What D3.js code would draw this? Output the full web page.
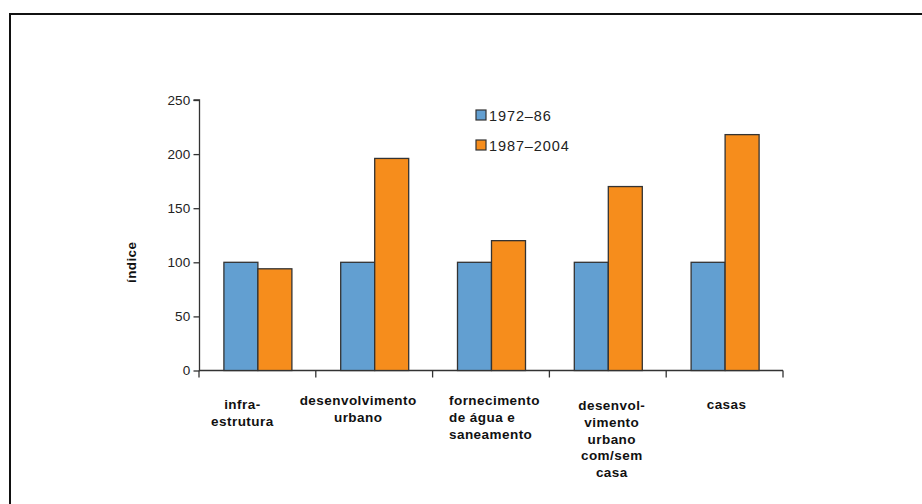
<!DOCTYPE html>
<html><head><meta charset="utf-8">
<script src="https://cdn.jsdelivr.net/npm/d3@7"></script>
<style>body{margin:0;background:#fff;} svg{display:block;font-family:"Liberation Sans",Arial,sans-serif;}</style>
</head><body>
<svg id="c" width="922" height="504"></svg>
<script>
const categories = [
  ["infra-","estrutura"],
  ["desenvolvimento","urbano"],
  ["fornecimento","de água e","saneamento"],
  ["desenvol-","vimento","urbano","com/sem","casa"],
  ["casas"]
];
const seriesNames = ["1972–86","1987–2004"];
const values1972 = [100,100,100,100,100];
const values1987 = [94,196,120,170,218];
const yTicks = [0,50,100,150,200,250];
const colors = ["#629fd1","#f68d1c"];

const svg = d3.select("#c");
// frame
svg.append("path").attr("d","M10,504 V14 H922").attr("fill","none").attr("stroke","#111").attr("stroke-width",2);

const x0 = d3.scaleBand().domain(d3.range(categories.length)).range([199,783]).paddingInner(0).paddingOuter(0);
const y = d3.scaleLinear().domain([0,250]).range([370.5,100]);
const inner = 34;

const yAxis = d3.axisLeft(y).tickValues(yTicks).tickSize(6).tickPadding(3);
const gy = svg.append("g").attr("transform","translate(199.5,0)").call(yAxis);
gy.selectAll("text").attr("font-size",13.5).attr("fill","#222").attr("font-family","Liberation Sans, Arial").attr("letter-spacing",0.2);
gy.selectAll("line,path").attr("stroke","#333").attr("stroke-width",1.3);
gy.select(".domain").attr("d",`M-6,${y(250)}H0V${y(0)}`);

// x axis
const gx = svg.append("g");
gx.append("line").attr("x1",x0.range()[0]).attr("x2",x0.range()[1]).attr("y1",y(0)).attr("y2",y(0)).attr("stroke","#333").attr("stroke-width",1.3);
const bounds = d3.range(categories.length+1).map(i=> i<categories.length ? x0(i) : x0.range()[1]);
gx.selectAll("line.t").data(bounds).join("line").attr("class","t")
  .attr("x1",d=>d).attr("x2",d=>d).attr("y1",y(0)).attr("y2",y(0)+7).attr("stroke","#333").attr("stroke-width",1.3);

// bars
const series = [values1972, values1987];
const groups = svg.append("g");
categories.forEach((c,i)=>{
  const cx = x0(i)+x0.bandwidth()/2;
  series.forEach((vals,s)=>{
    groups.append("rect")
      .attr("x", cx - inner + s*inner + 0.5)
      .attr("y", y(vals[i]))
      .attr("width", inner)
      .attr("height", y(0)-y(vals[i]))
      .attr("fill", colors[s]).attr("stroke","#333").attr("stroke-width",1.3);
  });
});

// category labels
const labelDx = [-15,-16,-42,4,2];
const labelAnchor = ["middle","middle","start","middle","middle"];
const labelY0 = [409,405,405,410,409];
categories.forEach((lines,i)=>{
  const t = svg.append("text").attr("text-anchor",labelAnchor[i]).attr("font-size",13.5).attr("font-weight","bold").attr("fill","#111").attr("letter-spacing",0.45);
  lines.forEach((l,j)=>{
    t.append("tspan").attr("x", x0(i)+x0.bandwidth()/2 + labelDx[i]).attr("y", labelY0[i] + j*16.8).text(l);
  });
});

// y label
svg.append("text").attr("transform",`translate(136,${y(100)}) rotate(-90)`).attr("text-anchor","middle")
  .attr("font-size",13.5).attr("font-weight","bold").attr("fill","#111").attr("letter-spacing",0.4).text("índice");

// legend
const lg = svg.append("g").attr("transform","translate(476,110)");
seriesNames.forEach((n,i)=>{
  lg.append("rect").attr("x",0).attr("y",i*30).attr("width",10).attr("height",10).attr("fill",colors[i]).attr("stroke","#333").attr("stroke-width",1.2);
  lg.append("text").attr("x",13).attr("y",i*30+10.5).attr("font-size",14.5).attr("fill","#222").attr("letter-spacing",0.9).text(n);
});
</script>
</body></html>
